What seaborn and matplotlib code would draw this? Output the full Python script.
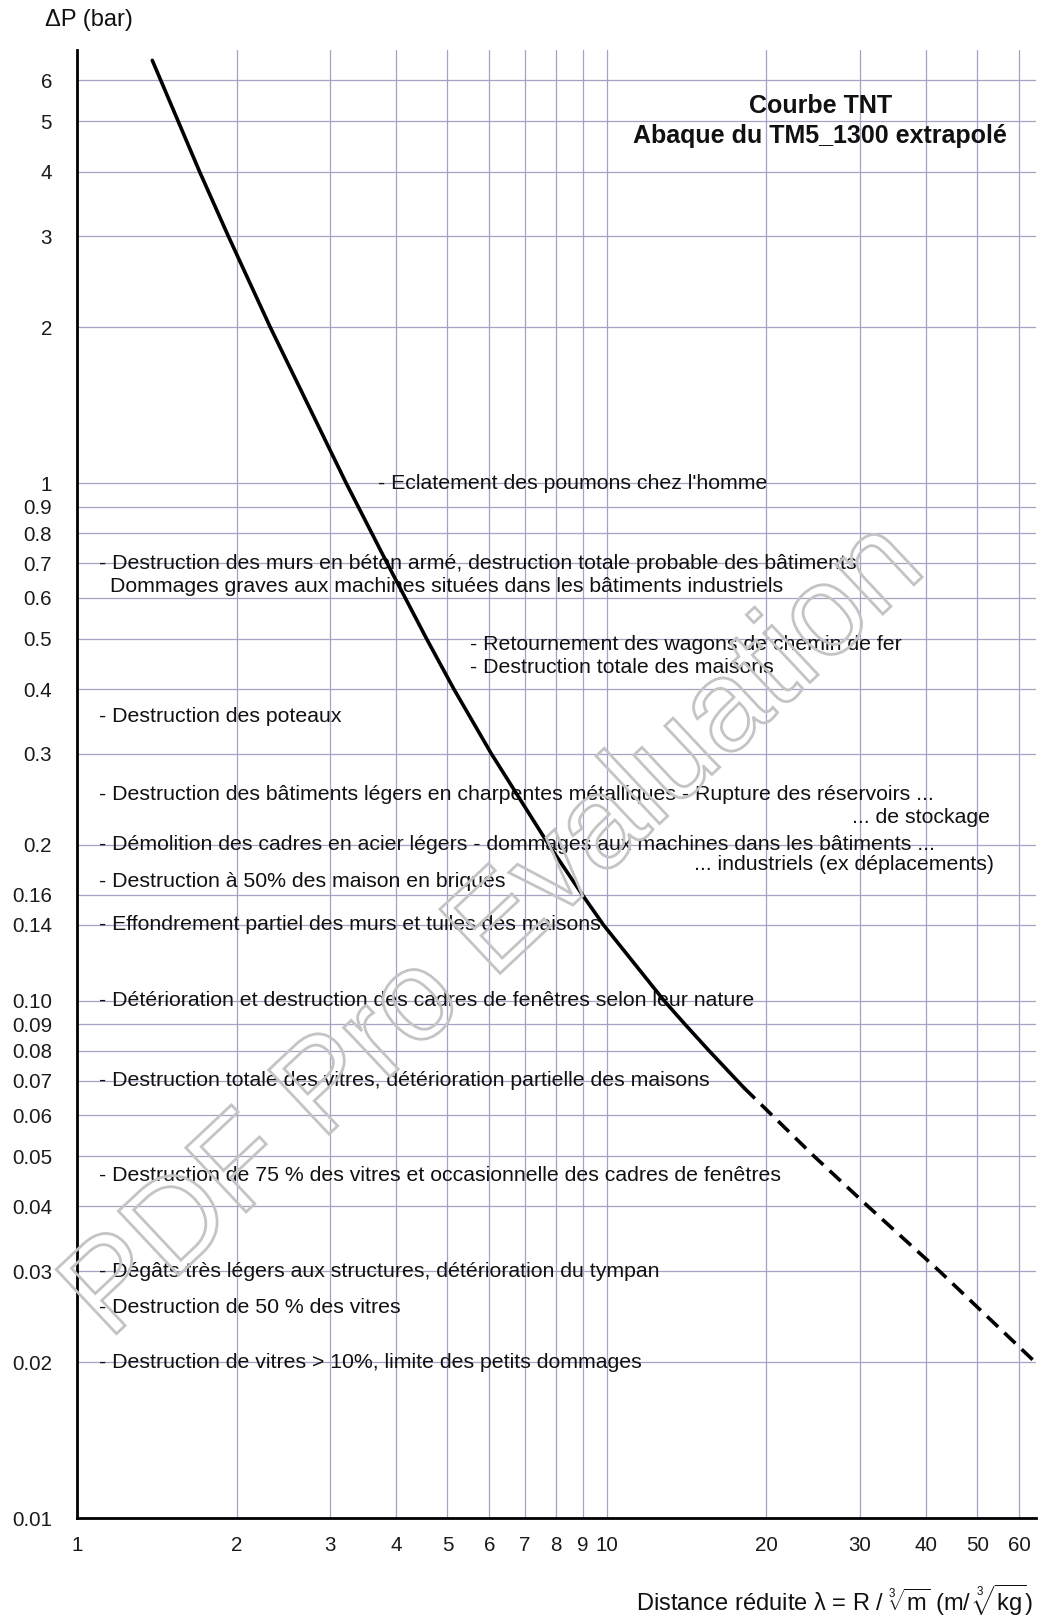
import matplotlib
matplotlib.use("Agg")
import matplotlib.pyplot as plt
import numpy as np
import pandas as pd
import seaborn as sns
from matplotlib.textpath import TextPath
from matplotlib.patches import PathPatch
from matplotlib.font_manager import FontProperties
from matplotlib.transforms import Affine2D, IdentityTransform, blended_transform_factory
from matplotlib.ticker import FixedLocator, FixedFormatter, NullLocator

# --- TNT overpressure curve (TM5-1300 chart) -------------------------------
# reduced distance (m/kg^1/3) and side-on overpressure (bar), chart range
lambda_chart = [1.387, 1.703, 1.930, 2.316, 3.22, 3.848, 4.568, 5.141, 6.05, 7.765, 8.99, 9.85,
                12.81, 14.03, 15.58, 18.14]
dp_chart = [6.56, 4.00, 3.00, 2.00, 1.00, 0.70, 0.50, 0.40, 0.30, 0.20, 0.16, 0.14,
            0.10, 0.09, 0.08, 0.0678]

# extrapolated part of the curve
lambda_extrap = [18.14, 20.5, 24.6, 31.1, 42.4, 64.3]
dp_extrap = [0.0678, 0.060, 0.050, 0.040, 0.030, 0.020]

# axis ticks
x_ticks = [1, 2, 3, 4, 5, 6, 7, 8, 9, 10, 20, 30, 40, 50, 60]
x_tick_labels = ["1", "2", "3", "4", "5", "6", "7", "8", "9", "10", "20", "30", "40", "50", "60"]
y_ticks = [6, 5, 4, 3, 2, 1, 0.9, 0.8, 0.7, 0.6, 0.5, 0.4, 0.3, 0.2, 0.16, 0.14,
           0.10, 0.09, 0.08, 0.07, 0.06, 0.05, 0.04, 0.03, 0.02, 0.01]
y_tick_labels = ["6", "5", "4", "3", "2", "1", "0.9", "0.8", "0.7", "0.6", "0.5", "0.4",
                 "0.3", "0.2", "0.16", "0.14", "0.10", "0.09", "0.08", "0.07", "0.06",
                 "0.05", "0.04", "0.03", "0.02", "0.01"]

# damage thresholds: overpressure (bar) and description
effect_dp = [1.0, 0.70, 0.632, 0.488, 0.44, 0.354, 0.25, 0.226, 0.20, 0.183, 0.170,
             0.14, 0.10, 0.07, 0.046, 0.030, 0.0255, 0.020]
effect_text = [
    "- Eclatement des poumons chez l'homme",
    "- Destruction des murs en béton armé, destruction totale probable des bâtiments",
    "Dommages graves aux machines situées dans les bâtiments industriels",
    "- Retournement des wagons de chemin de fer",
    "- Destruction totale des maisons",
    "- Destruction des poteaux",
    "- Destruction des bâtiments légers en charpentes métalliques - Rupture des réservoirs ...",
    "... de stockage",
    "- Démolition des cadres en acier légers - dommages aux machines dans les bâtiments ...",
    "... industriels (ex déplacements)",
    "- Destruction à 50% des maison en briques",
    "- Effondrement partiel des murs et tuiles des maisons",
    "- Détérioration et destruction des cadres de fenêtres selon leur nature",
    "- Destruction totale des vitres, détérioration partielle des maisons",
    "- Destruction de 75 % des vitres et occasionnelle des cadres de fenêtres",
    "- Dégâts très légers aux structures, détérioration du tympan",
    "- Destruction de 50 % des vitres",
    "- Destruction de vitres > 10%, limite des petits dommages",
]

# ---------------------------------------------------------------------------
sns.set_theme(style="white")
plt.rcParams["font.family"] = ["Liberation Sans", "DejaVu Sans"]
plt.rcParams["mathtext.fontset"] = "custom"
plt.rcParams["mathtext.rm"] = "Liberation Sans"
plt.rcParams["mathtext.it"] = "Liberation Sans:italic"
plt.rcParams["mathtext.bf"] = "Liberation Sans:bold"

W, H = 1050, 1618
fig = plt.figure(figsize=(W / 100, H / 100), dpi=100)
fig.patch.set_facecolor("white")
ax = fig.add_axes([77 / W, 100 / H, 959 / W, 1468 / H])
ax.set_facecolor("white")

chart_df = pd.DataFrame({"lam": lambda_chart, "dp": dp_chart})
extrap_df = pd.DataFrame({"lam": lambda_extrap, "dp": dp_extrap})

line_kw = dict(color="black", linewidth=2.6, sort=False, estimator=None, ax=ax, zorder=5)
sns.lineplot(data=chart_df, x="lam", y="dp", **line_kw)
ax.lines[-1].set_solid_joinstyle("round")
sns.lineplot(data=extrap_df, x="lam", y="dp", dashes=False, **line_kw)
ax.lines[-1].set_dashes([4.2, 2.4])
ax.lines[-1].set_dash_capstyle("butt")

ax.set_xscale("log")
ax.set_yscale("log")
ax.set_xlim(1, 64.5)
ax.set_ylim(0.01, 6.87)

ax.xaxis.set_major_locator(FixedLocator(x_ticks))
ax.xaxis.set_major_formatter(FixedFormatter(x_tick_labels))
ax.xaxis.set_minor_locator(NullLocator())
ax.yaxis.set_major_locator(FixedLocator(y_ticks))
ax.yaxis.set_major_formatter(FixedFormatter(y_tick_labels))
ax.yaxis.set_minor_locator(NullLocator())

ax.grid(True, which="major", color="#a3a3c3", linewidth=0.9, linestyle="-")
ax.set_axisbelow(True)
ax.tick_params(axis="both", length=0, labelsize=14.8, colors="#1a1a1a")
ax.tick_params(axis="y", pad=18)
ax.tick_params(axis="x", pad=13)
for lab in ax.get_yticklabels():
    lab.set_horizontalalignment("right")

for side in ("top", "right"):
    ax.spines[side].set_visible(False)
for side in ("left", "bottom"):
    ax.spines[side].set_color("black")
    ax.spines[side].set_linewidth(2.0)
    ax.spines[side].set_zorder(6)

ax.set_xlabel("")
ax.set_ylabel("")

# damage descriptions, left column unless stated otherwise
trans = blended_transform_factory(ax.transAxes, ax.transData)
effect_xpos = {0: 0.314, 2: 0.0344, 3: 0.41, 4: 0.41, 7: 0.952, 9: 0.956}
for i, (val, txt) in enumerate(zip(effect_dp, effect_text)):
    xp = effect_xpos.get(i, 0.0229)
    ha = "right" if txt.startswith("...") else "left"
    ax.text(xp, val, txt, transform=trans, ha=ha, va="center",
            fontsize=15.3, color="#111111", zorder=4)

# chart title
ax.text(0.775, 0.9516, "Courbe TNT\nAbaque du TM5_1300 extrapolé",
        transform=ax.transAxes, ha="center", va="center", multialignment="center",
        fontsize=18, fontweight="bold", color="#111111", linespacing=1.35, zorder=4)

# axis titles
fig.text(45 / W, 1 - 20 / H, "ΔP (bar)", ha="left", va="center",
         fontsize=17, color="#111111")
fig.text(1033 / W, 1 - 1611 / H,
         r"Distance réduite λ = R / $\sqrt[3]{\mathrm{m}}$ (m/ $\sqrt[3]{\mathrm{kg}}$)",
         ha="right", va="baseline", fontsize=17, color="#111111")

# evaluation stamp across the sheet (outlined lettering)
fp = FontProperties(family="Liberation Sans")
tp = TextPath((0, 0), "PDF Pro Evaluation", size=128, prop=fp)
ext = tp.get_extents()
cx, cy = (ext.x0 + ext.x1) / 2, (ext.y0 + ext.y1) / 2
stamp = Affine2D().translate(-cx, -cy).rotate_deg(43.2).translate(488, H - 922)
patch = PathPatch(stamp.transform_path(tp), transform=IdentityTransform(),
                  facecolor="none", edgecolor="#c4c4c4", linewidth=2.0, zorder=10)
fig.add_artist(patch)

fig.savefig("out.png", dpi=100, facecolor="white")
